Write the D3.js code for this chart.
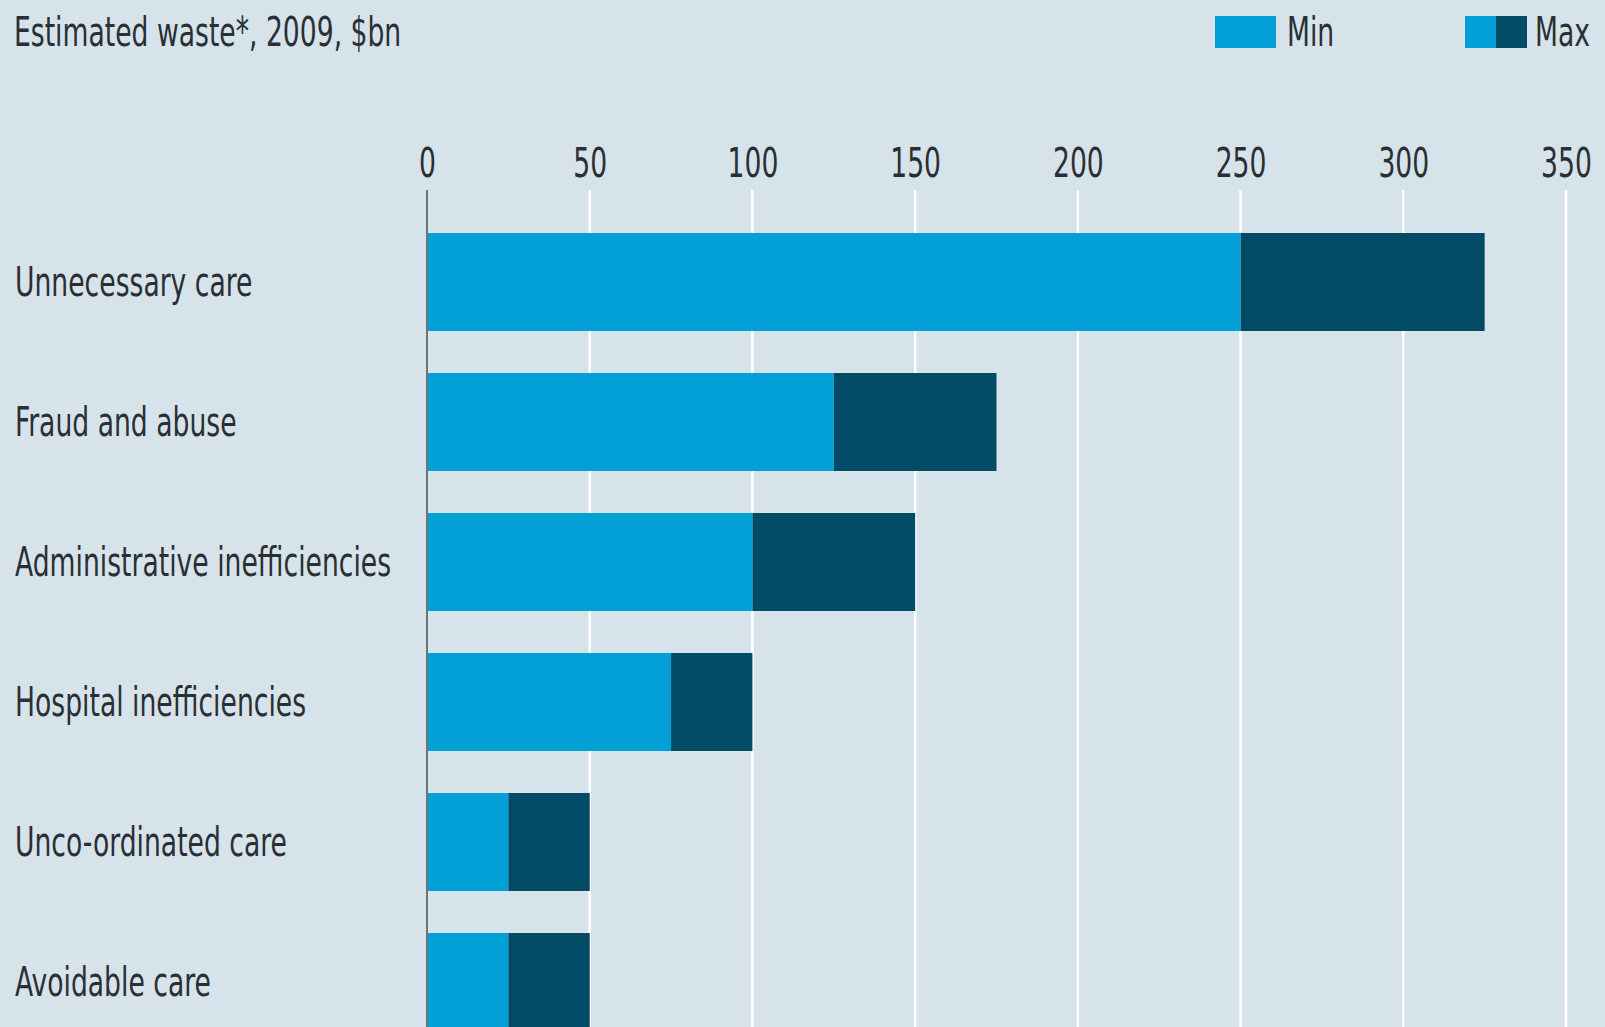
<!DOCTYPE html>
<html>
<head>
<meta charset="utf-8">
<script src="https://cdn.jsdelivr.net/npm/d3@7"></script>
<style>
  html, body { margin: 0; padding: 0; background: #d6e3eb; }
  svg { display: block; }
  text { font-family: "DejaVu Sans", sans-serif; font-stretch: condensed; fill: #2a2f33; }
</style>
</head>
<body>
<div id="chart"></div>
<script>
// data
const categories = ["Unnecessary care", "Fraud and abuse", "Administrative inefficiencies",
  "Hospital inefficiencies", "Unco-ordinated care", "Avoidable care"];
const minValues = [250, 125, 100, 75, 25, 25];
const maxValues = [325, 175, 150, 100, 50, 50];
const tickValues = [0, 50, 100, 150, 200, 250, 300, 350];

const width = 1605, height = 1027;
const colMin = "#02a0d6", colMax = "#024b66";
const fontSize = "40px";
const squeeze = 0.74; // horizontal squeeze to mimic the narrow house font

const svg = d3.select("#chart").append("svg")
  .attr("width", width)
  .attr("height", height);

svg.append("rect").attr("width", width).attr("height", height).attr("fill", "#d6e3eb");

// place a narrow text at x,y
function narrowText(sel, tx, ty, str) {
  return sel.append("text")
    .attr("transform", `translate(${tx},${ty}) scale(${squeeze},1)`)
    .style("font-size", fontSize)
    .text(str);
}

// scales
const x = d3.scaleLinear().domain([0, 350]).range([427, 1566]);
const y = d3.scaleBand().domain(categories).range([212, 1052]).paddingInner(0.3).paddingOuter(0.15);

// gridlines
svg.append("g").selectAll("line")
  .data(tickValues.slice(1))
  .join("line")
  .attr("x1", d => x(d)).attr("x2", d => x(d))
  .attr("y1", 190).attr("y2", height)
  .attr("stroke", "#ffffff").attr("stroke-width", 2.5);

// top axis labels
const axis = svg.append("g")
  .attr("transform", "translate(0,177)")
  .call(d3.axisTop(x).tickValues(tickValues).tickSize(0).tickPadding(0));
axis.select(".domain").remove();
axis.selectAll("text")
  .attr("transform", `scale(${squeeze},1)`)
  .style("font-size", fontSize)
  .style("font-family", "\"DejaVu Sans\", sans-serif")
  .attr("fill", "#2a2f33");

// bars: min part and max part
const rows = svg.append("g").selectAll("g")
  .data(categories.map((c, i) => ({ c, min: minValues[i], max: maxValues[i] })))
  .join("g");

rows.append("rect")
  .attr("x", x(0))
  .attr("y", d => y(d.c))
  .attr("width", d => x(d.min) - x(0))
  .attr("height", y.bandwidth())
  .attr("fill", colMin);

rows.append("rect")
  .attr("x", d => x(d.min))
  .attr("y", d => y(d.c))
  .attr("width", d => x(d.max) - x(d.min))
  .attr("height", y.bandwidth())
  .attr("fill", colMax);

// category labels
rows.each(function(d) {
  narrowText(d3.select(this), 15, y(d.c) + y.bandwidth() / 2 + 14, d.c);
});

// zero axis line
svg.append("line")
  .attr("x1", x(0)).attr("x2", x(0))
  .attr("y1", 190).attr("y2", height)
  .attr("stroke", "#6b7478").attr("stroke-width", 2);

// title
narrowText(svg, 14, 46, "Estimated waste*, 2009, $bn");

// legend
const legend = svg.append("g");
legend.append("rect").attr("x", 1215).attr("y", 16).attr("width", 61).attr("height", 32).attr("fill", colMin);
narrowText(legend, 1287, 46, "Min");
legend.append("rect").attr("x", 1465).attr("y", 16).attr("width", 31).attr("height", 32).attr("fill", colMin);
legend.append("rect").attr("x", 1496).attr("y", 16).attr("width", 31).attr("height", 32).attr("fill", colMax);
narrowText(legend, 1535, 46, "Max");
</script>
</body>
</html>
